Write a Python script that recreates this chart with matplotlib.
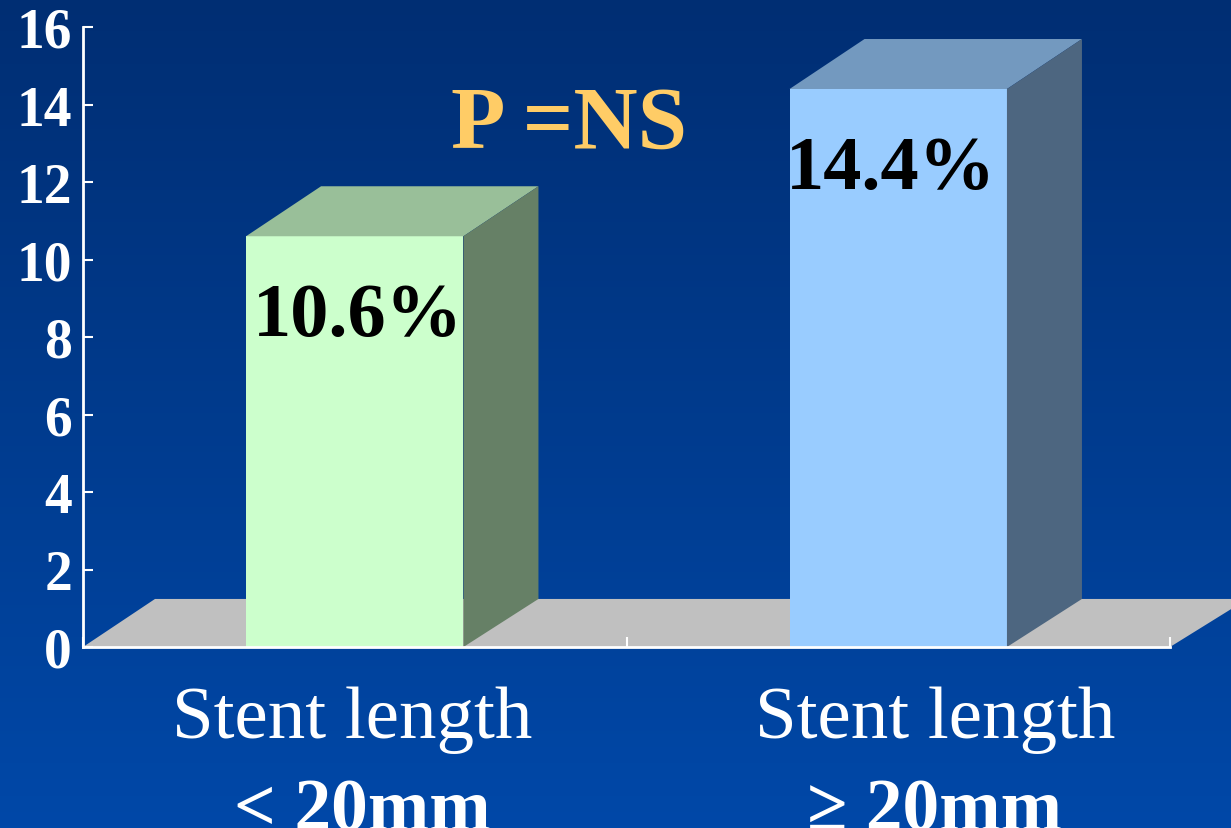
import numpy as np
import matplotlib.pyplot as plt
from matplotlib.patches import Polygon

# 数据
categories = ['Stent length\n< 20mm', 'Stent length\n\u2265 20mm']
rates = [10.6, 14.4]
rate_labels = ['10.6%', '14.4%']
yticks = [0, 2, 4, 6, 8, 10, 12, 14, 16]
p_text = 'P =NS'

front_colors = ['#CCFFCC', '#99CCFF']
top_colors = ['#99BF99', '#7399BF']
side_colors = ['#668066', '#4D6680']

serif = ['Liberation Serif', 'DejaVu Serif']

fig = plt.figure(figsize=(12.31, 8.29), dpi=100)

# 背景渐变
bg = fig.add_axes([0, 0, 1, 1], zorder=-10)
grad = np.linspace(0, 1, 256).reshape(-1, 1)
top_c = np.array([0, 46, 115]) / 255
bot_c = np.array([0, 72, 168]) / 255
img = top_c + grad[..., None] * (bot_c - top_c)
bg.imshow(img, aspect='auto', extent=[0, 1, 0, 1])
bg.axis('off')

W, H = 1231, 829
ax = fig.add_axes([83 / W, (H - 648) / H, (1170 - 83) / W, (648 - 28) / H])
ax.set_facecolor('none')
ax.set_xlim(0, 2)
ax.set_ylim(0, 16)

# 立体效果的偏移量
dx, dy = 0.138, 1.29
fdx, fdy = 0.1325, 1.24

# 灰色底板
floor = Polygon([(0, 0), (fdx, fdy), (2 + fdx + 0.01, fdy), (2, 0)],
                closed=True, facecolor='#C0C0C0', edgecolor='none',
                zorder=1, clip_on=False)
ax.add_patch(floor)

xs = [0.5, 1.5]
width = 0.4
ax.bar(xs, rates, width=width, color=front_colors, zorder=3)
for x, v, tc, sc in zip(xs, rates, top_colors, side_colors):
    l, r = x - width / 2, x + width / 2
    ax.add_patch(Polygon([(l, v), (l + dx, v + dy), (r + dx, v + dy), (r, v)],
                         closed=True, facecolor=tc, edgecolor='none',
                         zorder=3, clip_on=False))
    ax.add_patch(Polygon([(r, 0), (r, v), (r + dx, v + dy), (r + dx, fdy)],
                         closed=True, facecolor=sc, edgecolor='none',
                         zorder=3, clip_on=False))

# 数值标签
label_dx = [0.005, -0.013]
for x, v, lab, off in zip(xs, rates, rate_labels, label_dx):
    ax.text(x + off, v - 2.55, lab, ha='center', va='baseline',
            fontsize=55, fontweight='bold', family=serif, color='black', zorder=5)

ax.text(0.894, 12.9, p_text, ha='center', va='baseline', fontsize=64,
        fontweight='bold', family=serif, color='#FFCC66', zorder=5)

# 坐标轴样式
for s in ['top', 'right']:
    ax.spines[s].set_visible(False)
for s in ['left', 'bottom']:
    ax.spines[s].set_color('white')
    ax.spines[s].set_linewidth(2)
    ax.spines[s].set_zorder(4)

ax.set_yticks(yticks)
ax.set_yticklabels([str(t) for t in yticks], family=serif, fontweight='bold',
                   fontsize=40, color='white')
ax.tick_params(axis='y', direction='in', length=7, width=1.5, color='white', pad=8)
ax.set_xticks([0, 1, 2])
ax.set_xticklabels([])
ax.tick_params(axis='x', direction='in', length=7, width=1.5, color='white')

# 类别标签（第二行在底边被裁掉一部分）
line1_x = [0.495, 1.568]
line2_x = [0.513, 1.566]
for x1, x2, cat in zip(line1_x, line2_x, categories):
    line1, line2 = cat.split('\n')
    ax.text(x1, -2.31, line1, ha='center', va='baseline', fontsize=54,
            family=serif, color='white', clip_on=False)
    ax.text(x2, -4.72, line2, ha='center', va='baseline', fontsize=53,
            fontweight='bold', family=serif, color='white', clip_on=False)

fig.savefig('out.png', dpi=100)
